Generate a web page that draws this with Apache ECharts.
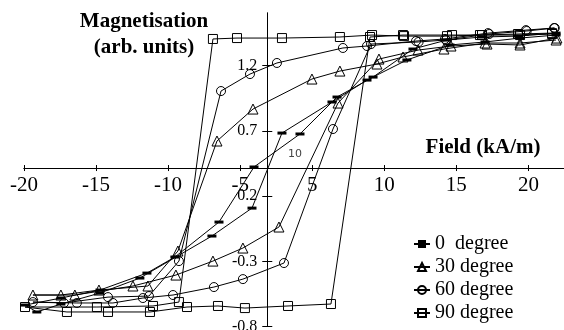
<!DOCTYPE html>
<html><head><meta charset="utf-8">
<script src="https://cdn.jsdelivr.net/npm/echarts@6/dist/echarts.min.js"></script>
<style>html,body{margin:0;padding:0;background:#fff}#c{width:564px;height:330px}</style>
</head><body><div id="c"></div>
<script>
// Tick labels as printed on the reference
const xTickLabels = ['-20','-15','-10','-5','5','10','15','20'];
const yTickLabels = ['-0.8','-0.3','0.2','0.7','1.2'];
const seriesNames = ['0  degree','30 degree','60 degree','90 degree'];

// Field (x) and magnetisation (y), origin at the axes crossing
const deg0X = [20.04,17.40,14.90,12.47,10.11,7.34,4.84,2.27,-0.92,-3.35,-6.41,-8.35,-11.61,-14.32,-16.80,
               -15.99,-14.32,-11.61,-8.84,-3.84,-1.06,1.02,4.49,6.92,9.69,12.68,15.11,17.54,20.04];
const deg0Y = [1.034,1.011,1.004,0.981,0.912,0.697,0.544,0.261,0.008,-0.414,-0.682,-0.805,-0.935,-0.996,-1.050,
               -1.103,-1.042,-0.958,-0.843,-0.521,-0.307,0.268,0.506,0.674,0.828,0.943,0.966,0.996,1.019];

const deg30X = [20.04,17.54,15.11,12.26,9.42,7.61,5.04,3.10,-0.99,-3.49,-6.20,-8.28,-11.68,-14.32,-16.26,
                -13.35,-9.32,-6.34,-3.77,-1.69,0.81,4.91,7.75,10.46,12.75,15.25,17.54,20.10];
const deg30Y = [0.981,0.958,0.958,0.912,0.851,0.797,0.743,0.682,0.452,0.207,-0.636,-0.904,-0.935,-0.973,-0.973,
                -0.973,-0.904,-0.820,-0.713,-0.613,-0.452,0.498,0.835,0.904,0.935,0.950,0.943,0.996];

const deg60X = [19.90,17.95,15.32,12.33,10.32,6.92,5.25,0.67,-1.20,-3.21,-6.13,-8.21,-11.05,-14.11,-16.26,
                -13.21,-10.71,-8.63,-6.54,-3.70,-1.69,1.16,4.56,7.20,10.50,12.40,15.40,18.00,19.95];
const deg60Y = [1.073,1.057,1.034,0.989,0.973,0.935,0.920,0.805,0.720,0.590,-0.713,-0.981,-0.989,-1.034,-1.027,
                -1.034,-1.034,-0.996,-0.973,-0.912,-0.851,-0.728,0.299,0.950,0.966,0.981,1.027,1.050,1.073];

const deg90X = [19.76,17.40,14.76,12.47,9.49,7.27,5.04,1.02,-2.10,-3.77,-6.13,-7.93,-11.82,-16.81,
                -13.90,-11.05,-8.14,-5.57,-3.42,-1.55,1.44,4.42,7.13,9.42,12.82,14.90,17.54,19.76];
const deg90Y = [1.034,1.027,1.019,1.011,1.011,1.019,1.004,0.996,0.996,0.989,-1.027,-1.057,-1.065,-1.065,
                -1.103,-1.103,-1.103,-1.065,-1.057,-1.073,-1.057,-1.042,1.004,1.019,1.019,1.019,1.019,1.027];

const xMin = -16.88, xMax = 20.59, xStep = 5;
const yMin = -1.215, yMax = 1.188, yStep = 0.5;

const W = 564, H = 330;
const grid = { left: 24, right: 0, top: 13, bottom: 3.4 };
const gridW = W - grid.left - grid.right, gridH = H - grid.top - grid.bottom;
// move each axis from its grid edge to the other axis's zero
const offBottom = -((0 - yMin) / (yMax - yMin)) * gridH;
const offTop    = -((yMax - 0) / (yMax - yMin)) * gridH;
const offLeft   = -((0 - xMin) / (xMax - xMin)) * gridW;
const offRight  = -((xMax - 0) / (xMax - xMin)) * gridW;

const xTickVals = xTickLabels.map((_, i) => +(xMin + i * xStep).toFixed(3));
const yTickVals = yTickLabels.map((_, i) => +(yMin + i * yStep).toFixed(3));

function labelFor(v, min, step, labels) {
  const i = Math.round((v - min) / step);
  if (i < 0 || i >= labels.length) return '';
  if (Math.abs(v - (min + i * step)) > step * 0.01) return '';
  return labels[i];
}
const pairs = (xs, ys) => xs.map((x, i) => [x, ys[i]]);

const serif = '"Liberation Serif", "Times New Roman", serif';
const makeAxis = (isX, pos, offset, showLabel) => ({
  type: 'value',
  position: pos,
  offset: offset,
  min: isX ? xMin : yMin,
  max: isX ? xMax : yMax,
  interval: isX ? xStep : yStep,
  axisLine: { show: true, onZero: false, lineStyle: { color: '#000', width: 1 } },
  axisTick: { show: true, inside: false, length: isX ? 3 : 5, lineStyle: { color: '#000', width: 1 },
              customValues: isX ? xTickVals : yTickVals },
  axisLabel: {
    show: showLabel,
    customValues: isX ? xTickVals : yTickVals,
    formatter: v => isX ? labelFor(v, xMin, xStep, xTickLabels) : labelFor(v, yMin, yStep, yTickLabels),
    fontFamily: serif, fontSize: isX ? 21 : 16, color: '#000',
    margin: isX ? 7 : 10, showMinLabel: true, showMaxLabel: true, hideOverlap: false
  },
  splitLine: { show: false },
  splitArea: { show: false }
});

const baseSeries = (name, xs, ys, symbol, size, filled) => ({
  name, type: 'line', data: pairs(xs, ys),
  symbol, symbolSize: size, showSymbol: true, showAllSymbol: true,
  lineStyle: { color: '#000', width: 1 },
  itemStyle: filled ? { color: '#000', borderWidth: 0 }
                    : { color: 'rgba(0,0,0,0)', borderColor: '#000', borderWidth: 1 },
  emphasis: { disabled: true }, silent: true, animation: false, z: 3
});

const chart = echarts.init(document.getElementById('c'), null, { renderer: 'canvas' });
chart.setOption({
  animation: false,
  backgroundColor: '#fff',
  grid: Object.assign({ containLabel: false, outerBoundsMode: 'none' }, grid),
  xAxis: [makeAxis(true, 'bottom', offBottom, true), makeAxis(true, 'top', offTop, false)],
  yAxis: [makeAxis(false, 'left', offLeft, true), makeAxis(false, 'right', offRight, false)],
  legend: {
    orient: 'vertical', left: 408, top: 229,
    itemWidth: 16, itemHeight: 10, itemGap: 3,
    textStyle: { fontFamily: serif, fontSize: 20, color: '#000' },
    data: seriesNames, selectedMode: false
  },
  graphic: [
    { type: 'text', x: 144, y: 22, style: { text: 'Magnetisation', font: 'bold 21px ' + serif, fill: '#000', align: 'center', verticalAlign: 'middle', textAlign: 'center', textVerticalAlign: 'middle' } },
    { type: 'text', x: 144, y: 48, style: { text: '(arb. units)', font: 'bold 21px ' + serif, fill: '#000', align: 'center', verticalAlign: 'middle', textAlign: 'center', textVerticalAlign: 'middle' } },
    { type: 'text', x: 483, y: 148, style: { text: 'Field (kA/m)', font: 'bold 21px ' + serif, fill: '#000', align: 'center', verticalAlign: 'middle', textAlign: 'center', textVerticalAlign: 'middle' } },
    { type: 'text', x: 295, y: 154, style: { text: '10', font: '11px "DejaVu Sans", sans-serif', fill: '#444', align: 'center', verticalAlign: 'middle', textAlign: 'center', textVerticalAlign: 'middle' } }
  ],
  series: [
    baseSeries(seriesNames[0], deg0X, deg0Y, 'rect', [9, 3], true),
    baseSeries(seriesNames[1], deg30X, deg30Y, 'triangle', 10, false),
    baseSeries(seriesNames[2], deg60X, deg60Y, 'circle', 9, false),
    baseSeries(seriesNames[3], deg90X, deg90Y, 'rect', 9, false)
  ]
});
</script>
</body></html>
